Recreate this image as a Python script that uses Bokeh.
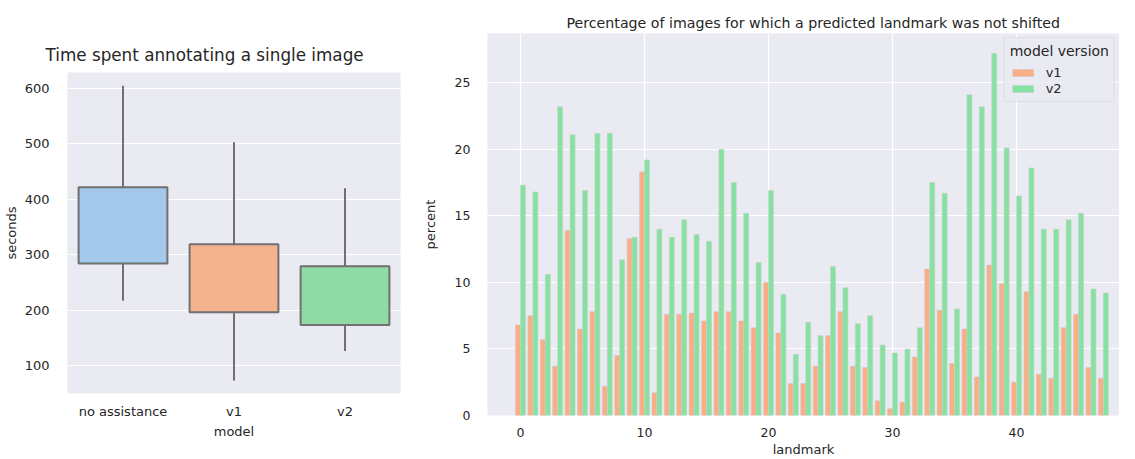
from bokeh.plotting import figure
from bokeh.layouts import row
from bokeh.models import ColumnDataSource, FactorRange, Range1d, FixedTicker, Legend, LegendItem
from bokeh.transform import dodge
from bokeh.embed import file_html
from bokeh.resources import INLINE

# ---- data: box plot ----
models = ["no assistance", "v1", "v2"]
whisker_low = [217, 73, 126]
q1 = [284, 196, 173]
median = [354, 237, 217]
q3 = [422, 319, 279]
whisker_high = [605, 503, 420]
box_colors = ["#a3c8ea", "#f4b38f", "#90daa6"]

# ---- data: bars ----
landmarks = list(range(48))
v1 = [6.8, 7.5, 5.7, 3.7, 13.9, 6.5, 7.8, 2.2, 4.5, 13.3,
      18.3, 1.7, 7.6, 7.6, 7.7, 7.1, 7.8, 7.8, 7.1, 6.6,
      10.0, 6.2, 2.4, 2.4, 3.7, 6.0, 7.8, 3.7, 3.6, 1.1,
      0.5, 1.0, 4.4, 11.0, 7.9, 3.9, 6.5, 2.9, 11.3, 9.9,
      2.5, 9.3, 3.1, 2.8, 6.6, 7.6, 3.6, 2.8]
v2 = [17.3, 16.8, 10.6, 23.2, 21.1, 16.9, 21.2, 21.2, 11.7, 13.4,
      19.2, 14.0, 13.4, 14.7, 13.6, 13.1, 20.0, 17.5, 15.2, 11.5,
      16.9, 9.1, 4.6, 7.0, 6.0, 11.2, 9.6, 6.9, 7.5, 5.3,
      4.7, 5.0, 6.6, 17.5, 16.7, 8.0, 24.1, 23.2, 27.2, 20.1,
      16.5, 18.6, 14.0, 14.0, 14.7, 15.2, 9.5, 9.2]
series_names = ["v1", "v2"]
bar_colors = ["#fbae86", "#86e2a0"]

BG = "#eaeaf2"
TXT = "#262626"
FONT = "DejaVu Sans"
H = 459

def style(p, tick_size, label_size):
    p.background_fill_color = BG
    p.border_fill_color = "white"
    p.outline_line_color = None
    for ax in p.axis:
        ax.axis_line_color = None
        ax.major_tick_line_color = None
        ax.minor_tick_line_color = None
        ax.major_label_text_color = TXT
        ax.major_label_text_font = FONT
        ax.major_label_text_font_size = tick_size
        ax.axis_label_text_color = TXT
        ax.axis_label_text_font = FONT
        ax.axis_label_text_font_size = label_size
        ax.axis_label_text_font_style = "normal"
    p.grid.grid_line_color = "white"
    p.grid.grid_line_width = 1.2
    p.title.text_font = FONT
    p.title.text_font_style = "normal"
    p.title.text_color = TXT

# ---- left figure ----
p1 = figure(width=402, height=H, x_range=FactorRange(*models, range_padding=0),
            y_range=Range1d(49.5, 629), output_backend="svg", toolbar_location=None,
            title="Time spent annotating a single image",
            min_border_left=66, min_border_right=2, min_border_top=72, min_border_bottom=H - 393)
p1.frame_align = False
src = ColumnDataSource(dict(m=models, lo=whisker_low, q1=q1, med=median, q3=q3,
                            hi=whisker_high, c=box_colors))
lc = "#707070"
lw = 2
p1.segment(x0="m", y0="q3", x1="m", y1="hi", source=src, line_color=lc, line_width=lw)
p1.segment(x0="m", y0="lo", x1="m", y1="q1", source=src, line_color=lc, line_width=lw)
p1.vbar(x="m", bottom="q1", top="q3", width=0.8, source=src, fill_color="c",
        line_color=lc, line_width=lw)
p1.rect(x="m", y="med", width=0.8, height=0, source=src, line_color=lc, line_width=lw)
p1.rect(x="m", y="hi", width=0.4, height=0, source=src, line_color=lc, line_width=lw)
p1.rect(x="m", y="lo", width=0.4, height=0, source=src, line_color=lc, line_width=lw)
style(p1, "13px", "13px")
p1.title.text_font_size = "16.8px"
p1.title.align = "left"
p1.title.offset = -22
p1.title.standoff = 16
p1.xgrid.grid_line_color = None
p1.yaxis.ticker = FixedTicker(ticks=[100, 200, 300, 400, 500, 600])
p1.xaxis.axis_label = "model"
p1.yaxis.axis_label = "seconds"
p1.xaxis.major_label_standoff = 4
p1.xaxis.axis_label_standoff = 2
p1.yaxis.major_label_standoff = 12
p1.yaxis.axis_label_standoff = 3

# ---- right figure ----
p2 = figure(width=717, height=H, x_range=Range1d(-2.66, 48.3), y_range=Range1d(0, 28.7),
            output_backend="svg", toolbar_location=None,
            title="Percentage of images for which a predicted landmark was not shifted",
            min_border_left=85, min_border_right=0, min_border_top=33, min_border_bottom=H - 416)
p2.frame_align = False
bsrc = ColumnDataSource(dict(x=landmarks, v1=v1, v2=v2))
r1 = p2.vbar(x=dodge("x", -0.2, range=p2.x_range), top="v1", width=0.4, source=bsrc,
             fill_color=bar_colors[0], line_color="#d0c8c4", line_width=0.6)
r2 = p2.vbar(x=dodge("x", 0.2, range=p2.x_range), top="v2", width=0.4, source=bsrc,
             fill_color=bar_colors[1], line_color="#c4d2c8", line_width=0.6)
style(p2, "12.5px", "13px")
p2.title.text_font_size = "14.2px"
p2.title.align = "left"
p2.title.offset = 79
p2.title.standoff = 6
p2.xaxis.ticker = FixedTicker(ticks=[0, 10, 20, 30, 40])
p2.yaxis.ticker = FixedTicker(ticks=[0, 5, 10, 15, 20, 25])
p2.xaxis.axis_label = "landmark"
p2.yaxis.axis_label = "percent"
p2.xaxis.major_label_standoff = 6
p2.xaxis.axis_label_standoff = 2
p2.yaxis.major_label_standoff = 11
p2.yaxis.axis_label_standoff = 14
legend = Legend(items=[LegendItem(label=series_names[0], renderers=[r1]),
                       LegendItem(label=series_names[1], renderers=[r2])],
                location="top_right", title="model version")
legend.title_text_font = FONT
legend.title_text_font_size = "14px"
legend.title_text_font_style = "normal"
legend.title_text_color = TXT
legend.label_text_font = FONT
legend.label_text_font_size = "13px"
legend.label_text_color = TXT
legend.background_fill_color = BG
legend.background_fill_alpha = 0.8
legend.border_line_color = "#d0d0d8"
legend.glyph_height = 9
legend.glyph_width = 26
legend.spacing = 0
legend.padding = 5
legend.margin = 4
legend.label_height = 16
legend.label_standoff = 10
p2.add_layout(legend)

layout = row(p1, p2)
open("out.html", "w").write(file_html(layout, INLINE))
